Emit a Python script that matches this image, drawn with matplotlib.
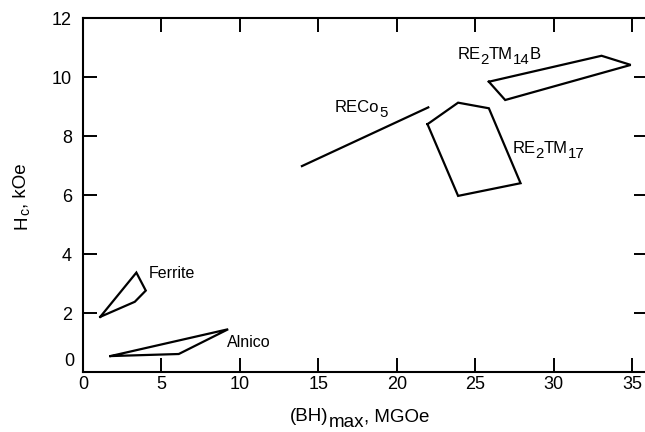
import matplotlib
matplotlib.use("Agg")
import matplotlib.pyplot as plt
import matplotlib.transforms as mtransforms

plt.rcParams['font.family'] = ['Liberation Sans', 'DejaVu Sans']

# Region outlines: (BH)max [MGOe], Hc [kOe]
ferrite_x = [1.1, 3.4, 4.0, 3.3, 1.1]
ferrite_y = [1.88, 3.38, 2.77, 2.39, 1.88]

alnico_x = [1.75, 9.25, 6.1, 1.75]
alnico_y = [0.55, 1.46, 0.62, 0.55]

reco5_x = [13.95, 22.0]
reco5_y = [6.99, 8.98]

re2tm17_x = [21.95, 23.9, 25.86, 27.88, 23.9, 21.95]
re2tm17_y = [8.41, 9.14, 8.95, 6.41, 5.98, 8.41]

re2tm14b_x = [25.86, 33.04, 34.9, 26.9, 25.86]
re2tm14b_y = [9.85, 10.73, 10.42, 9.23, 9.85]

# Labels as (text, is_subscript) pieces
label_pieces = [
    [('Ferrite', False)],
    [('Alnico', False)],
    [('RECo', False), ('5', True)],
    [('RE', False), ('2', True), ('TM', False), ('17', True)],
    [('RE', False), ('2', True), ('TM', False), ('14', True), ('B', False)],
]
label_x = [4.22, 9.15, 16.05, 27.37, 23.84]
label_y = [3.19, 0.85, 8.81, 7.42, 10.61]

x_ticks = [0, 5, 10, 15, 20, 25, 30, 35]
y_ticks = [0, 2, 4, 6, 8, 10, 12]

xlabel_pieces = [('(BH)', False), ('max', True), (', MGOe', False)]
ylabel_pieces = [('H', False), ('c', True), (', kOe', False)]

DPI = 100
fig = plt.figure(figsize=(6.45, 4.32), dpi=DPI)
ax = fig.add_axes([83/645, 59.7/432, 565/645, 354/432])
renderer = fig.canvas.get_renderer()


def rich_text(x, y, pieces, base_transform, size, sub_scale, sub_drop_px,
              rotation=0, center=False):
    """Draw text pieces one after another, subscripts lowered and resized."""
    widths = []
    for txt, sub in pieces:
        s = size * (sub_scale if sub else 1.0)
        t = fig.text(0, 0, txt, fontsize=s)
        widths.append(t.get_window_extent(renderer).width)
        t.remove()
    pos = -sum(widths) / 2 if center else 0.0
    for (txt, sub), w in zip(pieces, widths):
        s = size * (sub_scale if sub else 1.0)
        drop = sub_drop_px if sub else 0.0
        if rotation == 0:
            dx, dy = pos, -drop
        else:
            dx, dy = drop, pos
        tr = base_transform + mtransforms.ScaledTranslation(dx / DPI, dy / DPI, fig.dpi_scale_trans)
        fig.text(x, y, txt, fontsize=s, transform=tr, ha='left', va='baseline',
                 rotation=rotation, rotation_mode='anchor', color='black')
        pos += w


lw = 1.6
for xs, ys in [(ferrite_x, ferrite_y), (alnico_x, alnico_y), (reco5_x, reco5_y),
               (re2tm17_x, re2tm17_y), (re2tm14b_x, re2tm14b_y)]:
    ax.plot(xs, ys, color='black', lw=lw, solid_joinstyle='miter', clip_on=False)

ax.set_xlim(0, 36)
ax.set_ylim(0, 12)

for pcs, x, y in zip(label_pieces, label_x, label_y):
    size = 11.5 if len(pcs) == 1 else 12
    rich_text(x, y, pcs, ax.transData, size, 0.9, 4.5)

ax.set_xticks(x_ticks)
ax.set_yticks(y_ticks)
ax.set_xticklabels([str(v) for v in x_ticks])
ax.set_yticklabels([''] + [str(v) for v in y_ticks[1:]])
# "0" on the y axis is lifted above the corner
ax.text(-0.0145, 0.36, '0', transform=mtransforms.blended_transform_factory(ax.transAxes, ax.transData),
        ha='right', va='center', fontsize=13)

ax.tick_params(axis='both', direction='in', length=10, width=1.4, labelsize=13,
               top=True, right=True)
ax.tick_params(axis='x', pad=3)
ax.tick_params(axis='y', pad=8)
for s in ax.spines.values():
    s.set_linewidth(1.5)

# axis titles
rich_text(360 / 645, (432 - 421) / 432, xlabel_pieces, fig.transFigure, 13.5, 1.0, 6,
          rotation=0, center=True)
rich_text(26 / 645, (432 - 196) / 432, ylabel_pieces, fig.transFigure, 13.5, 0.75, 3,
          rotation=90, center=True)

fig.savefig('out.png', dpi=DPI)
